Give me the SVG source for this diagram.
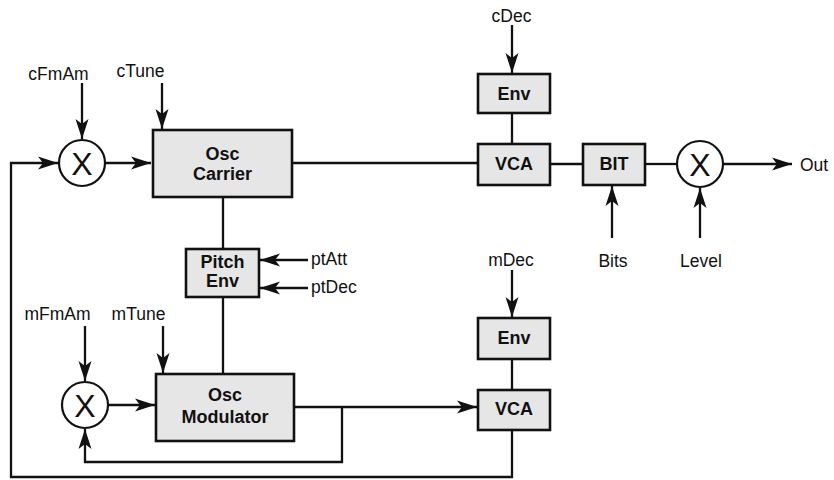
<svg xmlns="http://www.w3.org/2000/svg" width="834" height="480" viewBox="0 0 834 480">
<style>
.box{fill:#e6e6e6;stroke:#111;stroke-width:2.6}
.bl{font-family:"Liberation Sans",Arial,sans-serif;font-weight:bold;font-size:18px;fill:#111;text-anchor:middle}
.lb{font-family:"Liberation Sans",Arial,sans-serif;font-size:17.5px;fill:#111}
.mid{text-anchor:middle}
.ln{fill:none;stroke:#111;stroke-width:2.3}
.arr{marker-end:url(#ah)}
.mix{fill:#fff;stroke:#111;stroke-width:2.2}
.x{font-family:"Liberation Sans",Arial,sans-serif;font-size:32px;fill:#111;text-anchor:middle}
</style>
<defs>
<marker id="ah" markerUnits="userSpaceOnUse" markerWidth="24" markerHeight="16" viewBox="-21 -8 22 16" refX="0" refY="0" orient="auto">
<path d="M0,0 L-20,-6.5 L-15,0 L-20,6.5 Z" fill="#111"/>
</marker>
</defs>
<g id="connectors">
<path class="ln arr" d="M82,83 V139"/>
<path class="ln arr" d="M162,83 V129"/>
<path class="ln arr" d="M105,163 H151"/>
<path class="ln" d="M292,163 H478"/>
<path class="ln arr" d="M512,25 V73"/>
<path class="ln" d="M512,113 V144"/>
<path class="ln" d="M550,164 H583"/>
<path class="ln" d="M645,164 H677"/>
<path class="ln arr" d="M723,164 H792"/>
<path class="ln arr" d="M612,238 V186"/>
<path class="ln arr" d="M700,238 V188"/>
<path class="ln" d="M223,197 V249"/>
<path class="ln arr" d="M308,260 H260"/>
<path class="ln arr" d="M308,288 H260"/>
<path class="ln" d="M223,297 V374"/>
<path class="ln arr" d="M85,326 V381"/>
<path class="ln arr" d="M163,326 V373"/>
<path class="ln arr" d="M108,405 H155"/>
<path class="ln arr" d="M294,407 H477"/>
<path class="ln arr" d="M342,407 V462 H85 V429"/>
<path class="ln arr" d="M512,270 V317"/>
<path class="ln" d="M512,359 V390"/>
<path class="ln arr" d="M512,430 V477 H11 V163 H58"/>
</g>
<g id="mixC"><circle class="mix" cx="82" cy="163" r="23"/><text class="x" x="82" y="174.5">X</text></g>
<g id="mixM"><circle class="mix" cx="85" cy="405" r="23"/><text class="x" x="85" y="416.5">X</text></g>
<g id="mixOut"><circle class="mix" cx="700" cy="164" r="23"/><text class="x" x="700" y="175.5">X</text></g>
<g id="oscCarrier"><rect class="box" x="153" y="130" width="139" height="67"/><text class="bl" x="222.5" y="160">Osc</text><text class="bl" x="222.5" y="180">Carrier</text></g>
<g id="pitchEnv"><rect class="box" x="186" y="249" width="73" height="48"/><text class="bl" x="222.5" y="268">Pitch</text><text class="bl" x="222.5" y="287">Env</text></g>
<g id="oscMod"><rect class="box" x="156" y="374" width="138" height="67"/><text class="bl" x="225" y="401">Osc</text><text class="bl" x="225" y="423">Modulator</text></g>
<g id="envC"><rect class="box" x="478" y="74" width="72" height="39"/><text class="bl" x="514" y="100">Env</text></g>
<g id="vcaC"><rect class="box" x="478" y="144" width="72" height="41"/><text class="bl" x="514" y="170">VCA</text></g>
<g id="bit"><rect class="box" x="583" y="144" width="62" height="41"/><text class="bl" x="614" y="170">BIT</text></g>
<g id="envM"><rect class="box" x="478" y="318" width="72" height="41"/><text class="bl" x="514" y="344">Env</text></g>
<g id="vcaM"><rect class="box" x="478" y="390" width="72" height="40"/><text class="bl" x="514" y="415">VCA</text></g>
<g id="labels">
<text class="lb mid" x="58.5" y="80">cFmAm</text>
<text class="lb mid" x="140.5" y="77">cTune</text>
<text class="lb mid" x="511.5" y="22">cDec</text>
<text class="lb" x="800" y="171">Out</text>
<text class="lb mid" x="613" y="267">Bits</text>
<text class="lb mid" x="701" y="267">Level</text>
<text class="lb mid" x="511" y="266">mDec</text>
<text class="lb" x="311" y="265">ptAtt</text>
<text class="lb" x="311" y="293">ptDec</text>
<text class="lb mid" x="57.5" y="320">mFmAm</text>
<text class="lb mid" x="138.5" y="320">mTune</text>
</g>
</svg>
